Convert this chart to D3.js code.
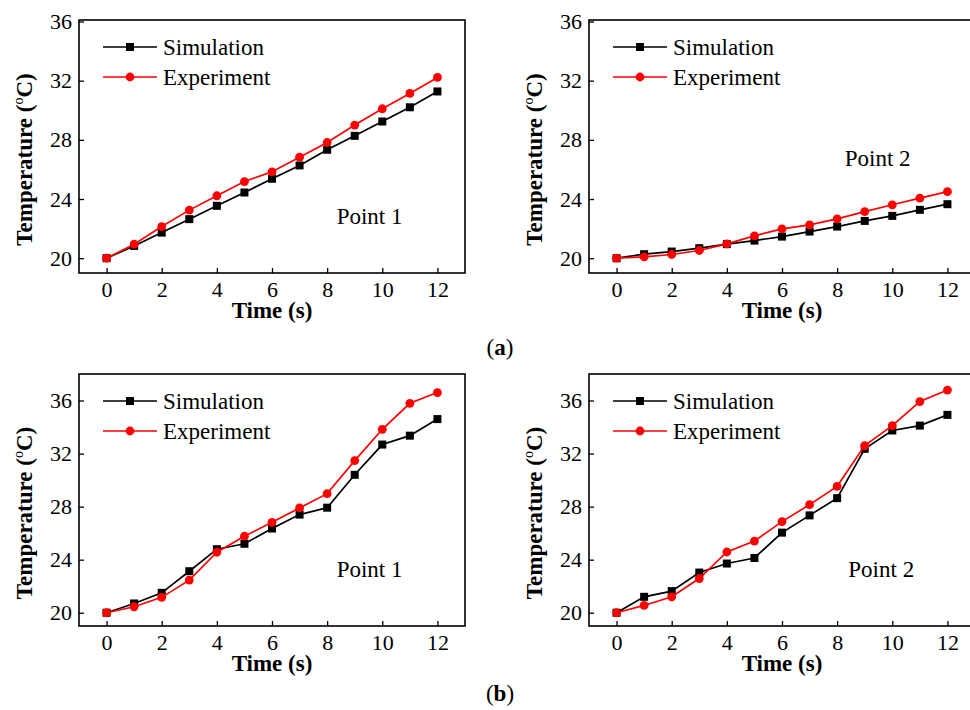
<!DOCTYPE html>
<head>
  <meta charset="utf-8">
  <script src="https://d3js.org/d3.v7.min.js"></script>
  <style>
    body { margin: 0; background: #fff; }
    svg { font-family: "Liberation Serif", "Times New Roman", serif; }
    .tick line { stroke: #000; stroke-width: 1.3; }
    .tick text { font-size: 22px; fill: #000; font-family: "Liberation Serif", "Times New Roman", serif; }
  </style>
</head>
<body>
<script>

// time (s)
var time = [0, 1, 2, 3, 4, 5, 6, 7, 8, 9, 10, 11, 12];
var xTicks = [0, 2, 4, 6, 8, 10, 12];
var yTicks = [20, 24, 28, 32, 36];

// (a) point 1 and point 2
var simA1 = [20, 20.83, 21.73, 22.64, 23.54, 24.44, 25.37, 26.27, 27.33, 28.27, 29.24, 30.2, 31.27];
var expA1 = [20, 20.95, 22.14, 23.25, 24.22, 25.18, 25.84, 26.83, 27.82, 29.0, 30.1, 31.14, 32.22];
var simA2 = [20, 20.27, 20.45, 20.68, 20.95, 21.19, 21.46, 21.8, 22.14, 22.52, 22.86, 23.27, 23.65];
var expA2 = [20, 20.09, 20.25, 20.52, 20.97, 21.51, 21.98, 22.25, 22.66, 23.15, 23.61, 24.06, 24.5];

// (b) point 1 and point 2
var simB1 = [20, 20.7, 21.5, 23.13, 24.79, 25.2, 26.35, 27.4, 27.92, 30.4, 32.68, 33.35, 34.6];
var expB1 = [20, 20.45, 21.16, 22.46, 24.56, 25.77, 26.82, 27.9, 28.98, 31.47, 33.83, 35.79, 36.6];
var simB2 = [20, 21.2, 21.63, 23.03, 23.71, 24.13, 26.04, 27.34, 28.64, 32.36, 33.74, 34.11, 34.92];
var expB2 = [20, 20.55, 21.2, 22.58, 24.58, 25.4, 26.87, 28.15, 29.53, 32.6, 34.11, 35.92, 36.79];

var seriesNames = ["Simulation", "Experiment"];
var colors = ["#000000", "#ff0000"];

var panels = [
  {left: 79,  top: 20,  h: 253, yDomain: [19, 36.1], sim: simA1, exp: expA1, label: "Point 1", lx: 9.54, ly: 22.32},
  {left: 589, top: 20,  h: 253, yDomain: [19, 36.1], sim: simA2, exp: expA2, label: "Point 2", lx: 9.47, ly: 26.2},
  {left: 79,  top: 374, h: 252, yDomain: [19, 38],   sim: simB1, exp: expB1, label: "Point 1", lx: 9.54, ly: 22.7},
  {left: 589, top: 374, h: 252, yDomain: [19, 38],   sim: simB2, exp: expB2, label: "Point 2", lx: 9.6,  ly: 22.7}
];

var plotW = 386;

var svg = d3.select("body").append("svg")
    .attr("width", 970)
    .attr("height", 710);

svg.append("rect").attr("width", 970).attr("height", 710).attr("fill", "#fff");

function drawMarker(g, i, cx, cy) {
  if (i == 0) {
    g.append("rect")
      .attr("x", cx - 4).attr("y", cy - 4)
      .attr("width", 8).attr("height", 8)
      .attr("fill", colors[0]);
  } else {
    g.append("circle")
      .attr("cx", cx).attr("cy", cy).attr("r", 4.4)
      .attr("fill", colors[1]);
  }
}

panels.forEach(function(p) {
  var x = d3.scaleLinear().domain([-1, 13]).range([0, plotW]);
  var y = d3.scaleLinear().domain(p.yDomain).range([p.h, 0]);

  var g = svg.append("g")
      .attr("transform", "translate(" + p.left + "," + p.top + ")");

  g.append("g")
      .attr("class", "x axis")
      .attr("transform", "translate(0," + p.h + ")")
      .call(d3.axisBottom(x).tickValues(xTicks).tickSizeInner(-5).tickSizeOuter(0).tickPadding(8))
      .call(function(a) { a.select(".domain").remove(); a.attr("font-family", null).attr("font-size", null); });

  g.append("g")
      .attr("class", "y axis")
      .call(d3.axisLeft(y).tickValues(yTicks).tickSizeInner(-5).tickSizeOuter(0).tickPadding(7))
      .call(function(a) { a.select(".domain").remove(); a.attr("font-family", null).attr("font-size", null); });

  g.append("rect")
      .attr("width", plotW).attr("height", p.h)
      .attr("fill", "none").attr("stroke", "#000").attr("stroke-width", 1.6);

  var line = d3.line()
      .x(function(d, i) { return x(time[i]); })
      .y(function(d) { return y(d); });

  [p.sim, p.exp].forEach(function(vals, k) {
    g.append("path")
        .datum(vals)
        .attr("fill", "none")
        .attr("stroke", colors[k])
        .attr("stroke-width", 1.7)
        .attr("d", line);
    vals.forEach(function(v, i) { drawMarker(g, k, x(time[i]), y(v)); });
  });

  // legend
  seriesNames.forEach(function(name, k) {
    var ly = 27 + k * 30;
    g.append("line")
        .attr("x1", 24).attr("x2", 78).attr("y1", ly).attr("y2", ly)
        .attr("stroke", colors[k]).attr("stroke-width", 1.7);
    drawMarker(g, k, 51, ly);
    g.append("text")
        .attr("x", 84).attr("y", ly).attr("dy", "0.35em")
        .style("font-size", "23px")
        .text(name);
  });

  g.append("text")
      .attr("x", x(p.lx)).attr("y", y(p.ly))
      .style("text-anchor", "middle")
      .style("font-size", "23px")
      .text(p.label);

  g.append("text")
      .attr("x", x(6)).attr("y", p.h + 45)
      .style("text-anchor", "middle")
      .style("font-size", "23px")
      .style("font-weight", "bold")
      .text("Time (s)");

  var yl = g.append("text")
      .attr("transform", "translate(" + (-47) + "," + (p.h / 2 + 13) + ") rotate(-90)")
      .style("text-anchor", "middle")
      .style("font-size", "23px")
      .style("font-weight", "bold");
  yl.append("tspan").text("Temperature (");
  yl.append("tspan").attr("dy", -9).style("font-size", "14px").style("font-weight", "normal").text("o");
  yl.append("tspan").attr("dy", 9).text("C)");
});

// sub-figure captions
[["a", 355], ["b", 701]].forEach(function(c) {
  var t = svg.append("text")
      .attr("x", 500).attr("y", c[1])
      .style("text-anchor", "middle")
      .style("font-size", "23px");
  t.append("tspan").text("(");
  t.append("tspan").style("font-weight", "bold").text(c[0]);
  t.append("tspan").text(")");
});

</script>
</body>
